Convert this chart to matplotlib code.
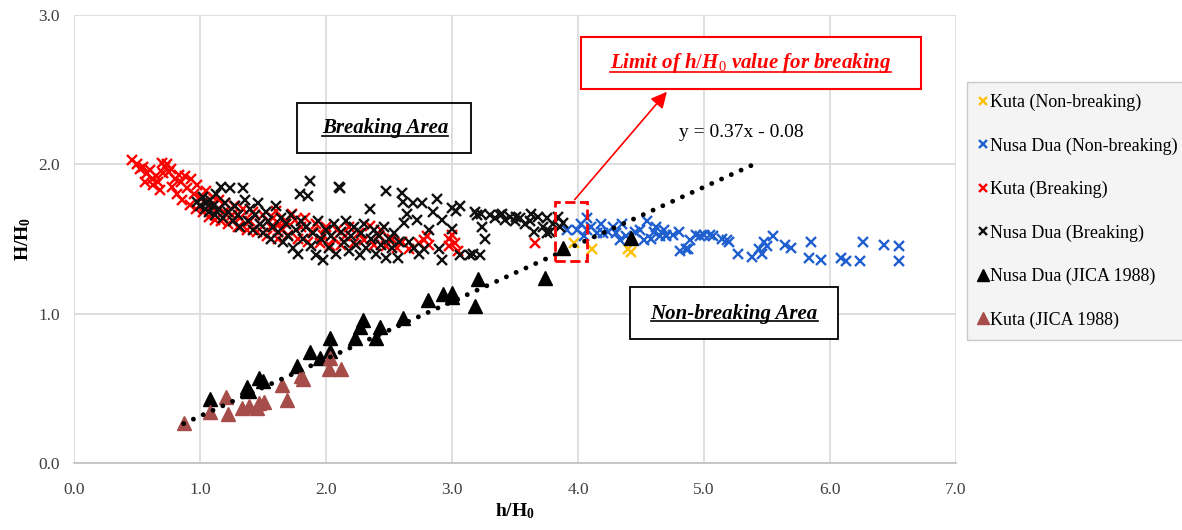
import matplotlib
matplotlib.use("Agg")

import matplotlib.pyplot as plt
from matplotlib.patches import Rectangle
from matplotlib.lines import Line2D
import numpy as np

plt.rcParams['font.family'] = ['Liberation Serif', 'DejaVu Serif']
plt.rcParams['mathtext.fontset'] = 'custom'
plt.rcParams['mathtext.rm'] = 'Liberation Serif'
plt.rcParams['mathtext.bf'] = 'Liberation Serif:bold'
plt.rcParams['mathtext.it'] = 'Liberation Serif:italic:bold'

# Kuta (Non-breaking)
kuta_nb_x = [3.97, 4.11, 4.40, 4.42]
kuta_nb_y = [1.47, 1.43, 1.43, 1.41]

# Nusa Dua (Non-breaking)
nd_nb_x = [3.91, 3.99, 4.02, 4.05, 4.07, 4.07, 4.10, 4.15, 4.18, 4.20, 4.24, 4.28, 4.30,
           4.33, 4.35, 4.38, 4.45, 4.49, 4.52, 4.55, 4.58, 4.60, 4.62, 4.65, 4.68, 4.70,
           4.70, 4.75, 4.80, 4.81, 4.86, 4.87, 4.89, 4.94, 4.97, 5.00, 5.05, 5.07, 5.14,
           5.18, 5.20, 5.27, 5.38, 5.44, 5.46, 5.48, 5.50, 5.55, 5.64, 5.69, 5.83, 5.85,
           5.93, 6.09, 6.13, 6.24, 6.26, 6.43, 6.55, 6.55]
nd_nb_y = [1.56, 1.56, 1.60, 1.52, 1.64, 1.56, 1.58, 1.54, 1.60, 1.54, 1.55, 1.58, 1.54,
           1.49, 1.60, 1.52, 1.55, 1.56, 1.49, 1.62, 1.50, 1.55, 1.58, 1.52, 1.56, 1.52,
           1.53, 1.53, 1.55, 1.42, 1.43, 1.43, 1.49, 1.53, 1.52, 1.53, 1.53, 1.52, 1.50,
           1.49, 1.48, 1.40, 1.38, 1.43, 1.40, 1.48, 1.45, 1.52, 1.46, 1.44, 1.37, 1.48,
           1.36, 1.37, 1.35, 1.35, 1.48, 1.46, 1.45, 1.35]

# Kuta (Breaking)
kuta_b_x = [0.46, 0.50, 0.52, 0.55, 0.58, 0.60, 0.62, 0.63, 0.65, 0.67, 0.70, 0.72, 0.74,
            0.75, 0.77, 0.78, 0.80, 0.82, 0.83, 0.85, 0.86, 0.88, 0.90, 0.92, 0.93, 0.95,
            0.97, 0.98, 1.00, 1.02, 1.03, 1.05, 1.07, 1.08, 1.10, 1.12, 1.14, 1.15, 1.17,
            1.19, 1.20, 1.22, 1.25, 1.27, 1.30, 1.32, 1.34, 1.37, 1.40, 1.42, 1.45, 1.48,
            1.50, 1.53, 1.56, 1.58, 1.62, 1.65, 1.68, 1.70, 1.73, 1.75, 1.78, 1.80, 1.83,
            1.86, 1.89, 1.92, 1.95, 1.98, 2.00, 2.03, 2.06, 2.09, 2.12, 2.15, 2.18, 2.22,
            2.26, 2.30, 2.35, 2.38, 2.42, 2.44, 2.48, 2.52, 2.56, 2.60, 2.66, 2.74, 2.78,
            2.80, 2.82, 2.98, 2.98, 3.00, 3.02, 3.05, 3.66, 0.56, 0.68, 0.71, 1.60, 1.63]
kuta_b_y = [2.03, 2.00, 1.97, 1.98, 1.94, 1.96, 1.90, 1.86, 1.92, 1.88, 2.01, 1.98, 2.00,
            1.95, 1.97, 1.85, 1.90, 1.80, 1.93, 1.88, 1.76, 1.92, 1.84, 1.73, 1.90, 1.80,
            1.70, 1.86, 1.78, 1.68, 1.75, 1.82, 1.65, 1.72, 1.78, 1.63, 1.70, 1.76, 1.62,
            1.68, 1.74, 1.60, 1.66, 1.72, 1.58, 1.64, 1.70, 1.56, 1.62, 1.68, 1.55, 1.60,
            1.66, 1.52, 1.58, 1.64, 1.50, 1.56, 1.62, 1.53, 1.67, 1.63, 1.50, 1.58, 1.64,
            1.48, 1.55, 1.60, 1.47, 1.53, 1.58, 1.45, 1.50, 1.56, 1.46, 1.52, 1.58, 1.47,
            1.54, 1.49, 1.59, 1.46, 1.53, 1.56, 1.45, 1.50, 1.44, 1.48, 1.43, 1.47, 1.49,
            1.52, 1.46, 1.50, 1.45, 1.53, 1.47, 1.42, 1.47, 1.88, 1.83, 1.94, 1.69, 1.60]

# Nusa Dua (Breaking)
nd_b_x = [0.98, 1.00, 1.02, 1.04, 1.05, 1.07, 1.08, 1.10, 1.12, 1.13, 1.15, 1.17, 1.18,
          1.20, 1.22, 1.24, 1.26, 1.28, 1.30, 1.32, 1.34, 1.36, 1.38, 1.40, 1.42, 1.44,
          1.46, 1.48, 1.50, 1.52, 1.54, 1.56, 1.58, 1.60, 1.62, 1.64, 1.66, 1.68, 1.70,
          1.72, 1.74, 1.76, 1.78, 1.79, 1.80, 1.82, 1.84, 1.86, 1.87, 1.88, 1.90, 1.92,
          1.94, 1.96, 1.98, 2.00, 2.02, 2.04, 2.06, 2.08, 2.10, 2.11, 2.12, 2.14, 2.16,
          2.18, 2.20, 2.22, 2.24, 2.27, 2.28, 2.30, 2.32, 2.35, 2.36, 2.38, 2.40, 2.42,
          2.44, 2.46, 2.48, 2.48, 2.50, 2.52, 2.54, 2.57, 2.58, 2.60, 2.61, 2.62, 2.64,
          2.66, 2.69, 2.70, 2.72, 2.74, 2.76, 2.78, 2.82, 2.85, 2.88, 2.90, 2.92, 2.92,
          3.00, 3.00, 3.03, 3.06, 3.06, 3.14, 3.17, 3.18, 3.20, 3.22, 3.23, 3.24, 3.26,
          3.30, 3.34, 3.38, 3.40, 3.42, 3.46, 3.50, 3.51, 3.54, 3.58, 3.62, 3.63, 3.65,
          3.68, 3.72, 3.75, 3.75, 3.78, 3.80, 3.84, 3.86, 3.88]
nd_b_y = [1.75, 1.72, 1.78, 1.70, 1.74, 1.68, 1.76, 1.72, 1.66, 1.80, 1.70, 1.85, 1.64,
          1.74, 1.68, 1.84, 1.62, 1.72, 1.66, 1.58, 1.84, 1.76, 1.62, 1.70, 1.56, 1.66,
          1.74, 1.60, 1.54, 1.68, 1.62, 1.50, 1.58, 1.72, 1.55, 1.64, 1.48, 1.60, 1.52,
          1.66, 1.44, 1.56, 1.40, 1.80, 1.62, 1.50, 1.58, 1.79, 1.89, 1.45, 1.54, 1.39,
          1.62, 1.50, 1.36, 1.56, 1.44, 1.52, 1.60, 1.40, 1.85, 1.84, 1.55, 1.48, 1.62,
          1.42, 1.52, 1.58, 1.46, 1.39, 1.54, 1.60, 1.44, 1.70, 1.50, 1.56, 1.40, 1.52,
          1.46, 1.58, 1.82, 1.37, 1.50, 1.44, 1.54, 1.37, 1.48, 1.81, 1.75, 1.61, 1.67,
          1.48, 1.74, 1.44, 1.63, 1.40, 1.74, 1.43, 1.56, 1.68, 1.77, 1.43, 1.36, 1.63,
          1.71, 1.57, 1.69, 1.72, 1.39, 1.39, 1.40, 1.68, 1.66, 1.39, 1.67, 1.58, 1.50,
          1.66, 1.64, 1.66, 1.67, 1.63, 1.65, 1.62, 1.65, 1.64, 1.60, 1.62, 1.67, 1.55,
          1.65, 1.58, 1.64, 1.54, 1.55, 1.60, 1.65, 1.58, 1.61]

# Nusa Dua (JICA 1988)
nd_jica_x = [1.08, 1.37, 1.39, 1.47, 1.77, 1.87, 1.95, 2.03, 2.03, 2.23, 2.27, 2.29, 2.40,
             2.43, 2.61, 2.81, 2.93, 3.00, 3.00, 3.18, 3.21, 3.74, 3.88, 4.42, 1.50]
nd_jica_y = [0.43, 0.51, 0.48, 0.57, 0.65, 0.74, 0.70, 0.84, 0.75, 0.84, 0.91, 0.96, 0.84,
             0.91, 0.97, 1.09, 1.13, 1.14, 1.11, 1.05, 1.23, 1.24, 1.44, 1.51, 0.55]

# Kuta (JICA 1988)
kuta_jica_x = [0.87, 1.08, 1.21, 1.22, 1.33, 1.39, 1.45, 1.47, 1.51, 1.65, 1.69, 1.80,
               1.82, 2.02, 2.03, 2.12]
kuta_jica_y = [0.27, 0.34, 0.44, 0.33, 0.37, 0.38, 0.37, 0.40, 0.41, 0.52, 0.42, 0.58,
               0.56, 0.63, 0.70, 0.63]

trend_end = 5.38

fig = plt.figure(figsize=(11.82, 5.30), dpi=100)
ax = fig.add_axes([74 / 1182, 1 - 463 / 530, 882 / 1182, 448 / 530])

xm = dict(marker='x', linestyle='none', ms=7.5, mew=1.7)
ax.plot(kuta_nb_x, kuta_nb_y, color='#ffc000', label='Kuta (Non-breaking)', **xm)
ax.plot(nd_nb_x, nd_nb_y, color='#1f5fcf', label='Nusa Dua (Non-breaking)', **xm)
ax.plot(kuta_b_x, kuta_b_y, color='#ff0000', label='Kuta (Breaking)', **xm)
ax.plot(nd_b_x, nd_b_y, color='#111111', label='Nusa Dua (Breaking)', **xm)
ax.plot(nd_jica_x, nd_jica_y, marker='^', linestyle='none', ms=10, color='black',
        label='Nusa Dua (JICA 1988)')
ax.plot(kuta_jica_x, kuta_jica_y, marker='^', linestyle='none', ms=10, color='#a64d4a',
        label='Kuta (JICA 1988)')

# linear trend of JICA data (Excel-style, extended forward)
jx = np.array(nd_jica_x + kuta_jica_x)
jy = np.array(nd_jica_y + kuta_jica_y)
slope, icpt = np.polyfit(jx, jy, 1)
tx = np.linspace(jx.min(), trend_end, 2)
ax.plot(tx, slope * tx + icpt, color='black', lw=3.5, linestyle=(0, (0.01, 2.2)),
        dash_capstyle='round', zorder=5)
ax.text(5.30, 2.21, 'y = 0.37x - 0.08', ha='center', va='center', fontsize=14)

ax.set_xlim(0, 7)
ax.set_ylim(0, 3)
ax.set_xticks(np.arange(0, 7.01, 1.0))
ax.set_yticks(np.arange(0, 3.01, 1.0))
ax.xaxis.set_major_formatter(matplotlib.ticker.FormatStrFormatter('%.1f'))
ax.yaxis.set_major_formatter(matplotlib.ticker.FormatStrFormatter('%.1f'))
ax.tick_params(length=0, labelsize=12.5, colors='#404040')
ax.tick_params(axis='x', pad=14)
ax.tick_params(axis='y', pad=10)
ax.grid(True, color='#d9d9d9', lw=1.2)
ax.set_axisbelow(True)
for s in ['top', 'right', 'left']:
    ax.spines[s].set_visible(False)
ax.spines['bottom'].set_color('#bfbfbf')
ax.spines['bottom'].set_linewidth(1.2)

ax.set_xlabel(r'$\mathbf{h/H_0}$', fontsize=14, labelpad=2)
ax.set_ylabel(r'$\mathbf{H/H_0}$', fontsize=14, labelpad=4)

# annotation boxes
ax.add_patch(Rectangle((1.77, 2.076), 1.38, 0.334, fill=False, ec='black', lw=1.3, zorder=6))
ax.add_patch(Rectangle((4.41, 0.833), 1.65, 0.345, fc='white', ec='black', lw=1.3, zorder=6))
ax.add_patch(Rectangle((4.02, 2.505), 2.70, 0.345, fc='white', ec='red', lw=1.5, zorder=6))
ax.add_patch(Rectangle((3.82, 1.35), 0.255, 0.40, fill=False, ec='red', lw=2, ls='--', zorder=7))
ax.annotate('', xy=(4.72, 2.50), xytext=(3.96, 1.75),
            arrowprops=dict(arrowstyle='-|>', color='red', lw=1.2, mutation_scale=24), zorder=7)

t1 = ax.text(2.47, 2.24, 'Breaking Area', ha='center', va='center', fontsize=15,
             fontweight='bold', fontstyle='italic', zorder=8)
t2 = ax.text(5.24, 1.0, 'Non-breaking Area', ha='center', va='center', fontsize=15,
             fontweight='bold', fontstyle='italic', zorder=8)
t3 = ax.text(5.37, 2.68, r'Limit of $h/H_0$ value for breaking', ha='center', va='center',
             fontsize=15, fontweight='bold', fontstyle='italic', color='red', zorder=8)

leg = fig.legend(loc='upper left', bbox_to_anchor=(967 / 1182, 1 - 82 / 530),
                 borderaxespad=0, frameon=True, fancybox=False, fontsize=13,
                 handlelength=0.5, handletextpad=0.15, labelspacing=1.45,
                 borderpad=0.65, markerscale=0.85)
leg.get_frame().set_facecolor('#f2f2f2')
leg.get_frame().set_edgecolor('#bfbfbf')

# underline the area labels
fig.canvas.draw()
r = fig.canvas.get_renderer()
for t, c in [(t1, 'black'), (t2, 'black'), (t3, 'red')]:
    bb = t.get_window_extent(r)
    y = (bb.y0 + 2.5) / fig.bbox.height
    fig.add_artist(Line2D([bb.x0 / fig.bbox.width, bb.x1 / fig.bbox.width], [y, y],
                          color=c, lw=1.2))

plt.savefig('out.png', dpi=100)
plt.close()
